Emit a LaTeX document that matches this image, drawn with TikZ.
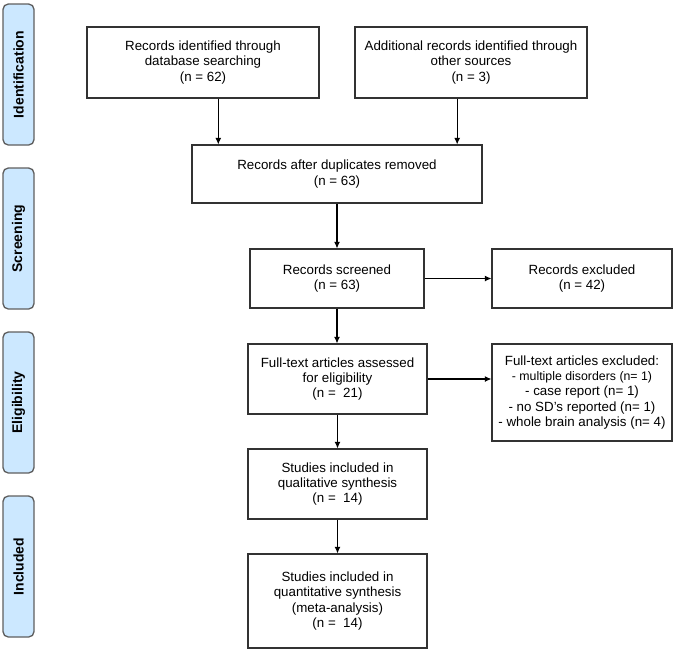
\documentclass[tikz,border=0pt]{standalone}
\usepackage{fontspec}
\setmainfont{Liberation Sans}
\usetikzlibrary{arrows.meta}
\definecolor{phasefill}{RGB}{204,232,255}
\definecolor{phaseline}{RGB}{95,95,95}
\definecolor{boxline}{RGB}{50,50,50}
\newcommand{\pxu}{0.75pt}

\begin{document}
\begin{tikzpicture}[x=0.75pt,y=-0.75pt,>={Latex[length=5pt,width=4.5pt]},
  box/.style={rectangle,draw=boxline,line width=0.8pt,align=center,inner sep=1pt,
    font=\fontsize{10}{11.5}\selectfont},
  phase/.style={rectangle,rounded corners=4pt,draw=phaseline,fill=phasefill,line width=1pt,
    minimum width=141*\pxu,minimum height=31*\pxu,rotate=90,
    font=\fontsize{10.5}{12}\selectfont\bfseries},
  flow/.style={->,line width=0.8pt}]
\useasboundingbox (0,0) rectangle (675,651);
% phases
\path (18.5,74.5) node[phase] (ident) {Identification};
\path (18.5,238.5) node[phase] (screen) {Screening};
\path (18.5,402.5) node[phase] (elig) {Eligibility};
\path (18.5,566.5) node[phase] (incl) {Included};
% identification
\path (203,62.5) node[box,minimum width=232*\pxu,minimum height=71*\pxu] (db)
  {Records identified through\\database searching\\(n = 62)};
\path (471,62.5) node[box,minimum width=232*\pxu,minimum height=71*\pxu] (other)
  {Additional records identified through\\other sources\\(n = 3)};
\path (337,174) node[box,minimum width=290*\pxu,minimum height=58*\pxu] (dup)
  {Records after duplicates removed\\(n = 63)};
\draw[flow] (db.-67) -- (db.-67 |- dup.north);
\draw[flow] (other.-111.5) -- (other.-111.5 |- dup.north);
% screening
\path (337,278.5) node[box,minimum width=174*\pxu,minimum height=59*\pxu] (scr)
  {Records screened\\(n = 63)};
\draw[flow] (dup) -- (scr);
\path (582,278.5) node[box,minimum width=180*\pxu,minimum height=59*\pxu] (excl)
  {Records excluded\\(n = 42)};
\draw[flow] (scr) -- (excl);
% eligibility
\path (337.5,379) node[box,minimum width=179*\pxu,minimum height=70*\pxu] (full)
  {Full-text articles assessed\\for eligibility\\(n = \ 21)};
\draw[flow] (scr) -- (scr |- full.north);
\path (582,392.5) node[box,minimum width=180*\pxu,minimum height=97*\pxu] (ftexcl)
  {Full-text articles excluded:\\\fontsize{9.25}{10.5}\selectfont
   - multiple disorders (n= 1)\\- case report (n= 1)\\- no SD’s reported (n= 1)\\
   - whole brain analysis (n= 4)};
\draw[flow] (full) -- (full.east -| ftexcl.west);
% included
\path (337.5,484) node[box,minimum width=179*\pxu,minimum height=70*\pxu] (qual)
  {Studies included in\\qualitative synthesis\\(n = \ 14)};
\draw[flow] (full) -- (qual);
\path (337.5,601) node[box,minimum width=179*\pxu,minimum height=94*\pxu] (quant)
  {Studies included in\\quantitative synthesis\\(meta-analysis)\\(n = \ 14)};
\draw[flow] (qual) -- (quant);
\end{tikzpicture}
\end{document}
